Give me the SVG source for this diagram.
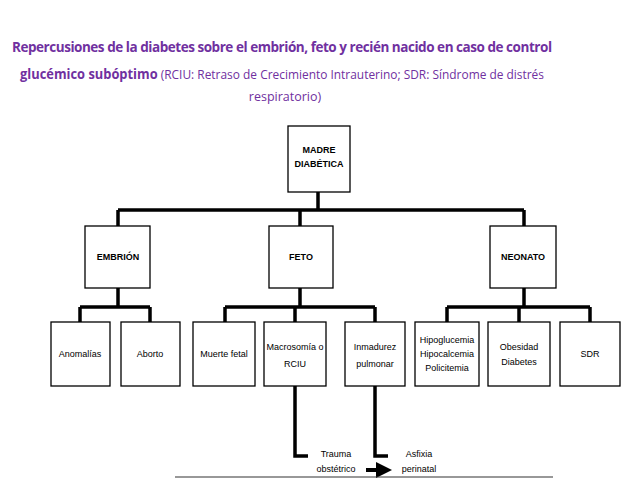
<svg xmlns="http://www.w3.org/2000/svg" width="638" height="479" viewBox="0 0 638 479">
<style>
.t{font-family:"Open Sans","Liberation Sans",sans-serif;fill:#7030a0}
.n rect{fill:#fff;stroke:#000;stroke-width:1.3}
.n text{font-family:"Liberation Sans",sans-serif;font-size:9px;text-anchor:middle;fill:#000}
.b{font-weight:bold}
.c{fill:none;stroke:#000;stroke-width:3.5}
</style>
<defs><marker id="ah" markerWidth="4" markerHeight="4" refX="2" refY="2" orient="auto"><path d="M0,0L4,2L0,4z" fill="#000"/></marker></defs>
<rect width="638" height="479" fill="#fff"/>
<text class="t" x="12" y="52" font-size="13.5" font-weight="bold" textLength="540">Repercusiones de la diabetes sobre el embrión, feto y recién nacido en caso de control</text>
<text class="t" x="20" y="79" font-size="12.5" textLength="524" lengthAdjust="spacingAndGlyphs"><tspan font-weight="bold" font-size="13.5">glucémico subóptimo</tspan> (RCIU: Retraso de Crecimiento Intrauterino; SDR: Síndrome de distrés</text>
<text class="t" x="285" y="101" font-size="12.5" text-anchor="middle">respiratorio)</text>
<g id="connectors">
<path class="c" d="M318 192V210M118 210H524M118 210V226M300 210V226M524 210V226"/>
<path class="c" d="M118 288V307M80 307H150M80 307V322M150 307V322"/>
<path class="c" d="M300 288V307M225 307H375M225 307V322M295 307V322M375 307V322"/>
<path class="c" d="M524 288V307M447 307H590M447 307V322M519 307V322M590 307V322"/>
<path class="c" d="M295 386V456H308M375 386V456H388"/>
<path d="M366 470H384" stroke="#000" stroke-width="4" marker-end="url(#ah)"/>
<path d="M175 477H553" stroke="#333" stroke-width="1.2"/>
</g>
<g id="madre" class="n"><rect x="288" y="126" width="62" height="66"/><text class="b" x="319" y="153">MADRE</text><text class="b" x="319" y="167">DIABÉTICA</text></g>
<g id="embrion" class="n"><rect x="85" y="226" width="65" height="62"/><text class="b" x="118" y="260">EMBRIÓN</text></g>
<g id="feto" class="n"><rect x="269" y="226" width="64" height="62"/><text class="b" x="301" y="260">FETO</text></g>
<g id="neonato" class="n"><rect x="490" y="226" width="66" height="62"/><text class="b" x="523" y="260">NEONATO</text></g>
<g id="anomalias" class="n"><rect x="51" y="322" width="59" height="64"/><text x="80" y="357">Anomalías</text></g>
<g id="aborto" class="n"><rect x="121" y="322" width="59" height="64"/><text x="150" y="357">Aborto</text></g>
<g id="muerte" class="n"><rect x="193" y="322" width="62" height="64"/><text x="224" y="357">Muerte fetal</text></g>
<g id="macro" class="n"><rect x="264" y="322" width="62" height="64"/><text x="295" y="350">Macrosomía  o</text><text x="295" y="367">RCIU</text></g>
<g id="inmadurez" class="n"><rect x="345" y="322" width="60" height="64"/><text x="375" y="350">Inmadurez</text><text x="375" y="367">pulmonar</text></g>
<g id="hipo" class="n"><rect x="415" y="322" width="64" height="64"/><text x="447" y="343">Hipoglucemia</text><text x="447" y="357">Hipocalcemia</text><text x="447" y="371">Policitemia</text></g>
<g id="obesidad" class="n"><rect x="488" y="322" width="62" height="64"/><text x="519" y="350">Obesidad</text><text x="519" y="365">Diabetes</text></g>
<g id="sdr" class="n"><rect x="560" y="322" width="60" height="64"/><text x="590" y="357">SDR</text></g>
<g id="trauma" class="n"><text x="336" y="457">Trauma</text><text x="336" y="472">obstétrico</text></g>
<g id="asfixia" class="n"><text x="419" y="457">Asfixia</text><text x="419" y="472">perinatal</text></g>
</svg>
